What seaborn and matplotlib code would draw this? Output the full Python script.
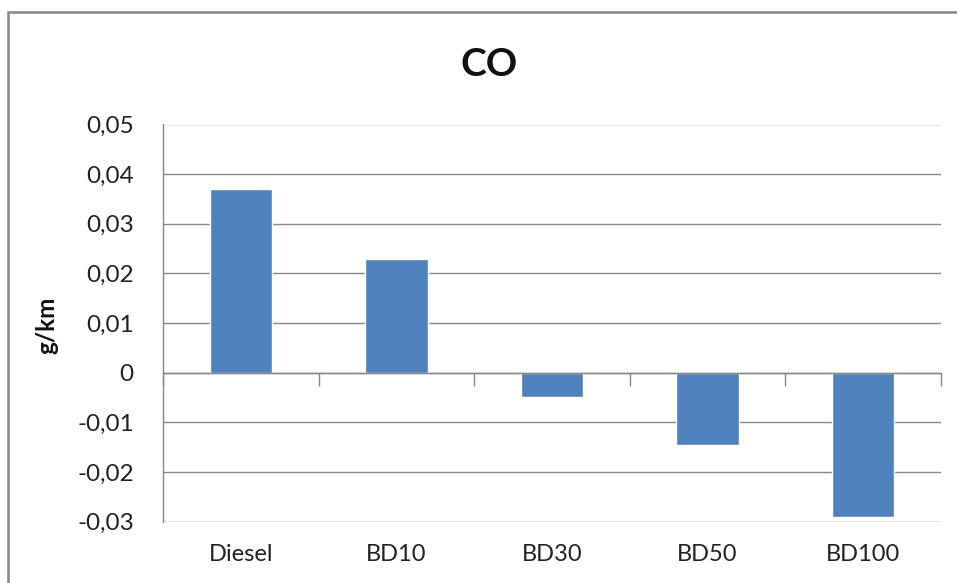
import matplotlib
matplotlib.use("Agg")
import matplotlib.pyplot as plt
from matplotlib.patches import Rectangle
from matplotlib.ticker import FuncFormatter, FixedLocator
import seaborn as sns
import numpy as np

# CO emissions per fuel blend
categories = ["Diesel", "BD10", "BD30", "BD50", "BD100"]
co_values = [0.037, 0.023, -0.0048, -0.0146, -0.029]
y_ticks = [-0.03, -0.02, -0.01, 0.0, 0.01, 0.02, 0.03, 0.04, 0.05]
title = "CO"
y_label = "g/km"

sns.set_theme(style="white")
plt.rcParams["font.family"] = ["Lato", "DejaVu Sans"]

grey = "#878787"
bar_color = "#4F81BD"

fig = plt.figure(figsize=(9.57, 5.83), dpi=100)
ax = fig.add_axes([163 / 957, 1 - 521.7 / 583, (941 - 163) / 957, (521.7 - 124.5) / 583])

sns.barplot(x=categories, y=co_values, color=bar_color, saturation=1,
            width=0.4, ax=ax, zorder=3)

ymin, ymax = y_ticks[0], y_ticks[-1]
ax.set_ylim(ymin, ymax)
ax.set_xlim(-0.5, len(categories) - 0.5)

# y axis: comma decimal separator
ax.yaxis.set_major_locator(FixedLocator(y_ticks))
ax.yaxis.set_major_formatter(FuncFormatter(
    lambda v, _: "0" if abs(v) < 1e-12 else f"{v:.2f}".replace(".", ",")))
ax.tick_params(axis="y", which="major", direction="out", length=9, width=1,
               color=grey, pad=12, labelsize=17.5, labelcolor="#222222")
ax.yaxis.grid(True, color=grey, linewidth=1)
ax.xaxis.grid(False)

# category labels at the bottom of the plot area
ax.tick_params(axis="x", which="major", length=0, pad=16, labelsize=17,
               labelcolor="#222222")

for side in ("top", "right", "bottom"):
    ax.spines[side].set_visible(False)
ax.spines["left"].set_color(grey)
ax.spines["left"].set_linewidth(1)

# horizontal axis line through zero with category boundary ticks
zero_pos = (0 - ymin) / (ymax - ymin)
sec = ax.secondary_xaxis(zero_pos)
boundaries = np.arange(len(categories) + 1) - 0.5
sec.set_xticks(boundaries)
sec.set_xticklabels([""] * len(boundaries))
sec.tick_params(axis="x", direction="out", length=9, width=1, color=grey)
sec.spines["bottom"].set_color(grey)
sec.spines["bottom"].set_linewidth(1)
sec.set_zorder(4)

ax.set_xlabel("")
ax.set_ylabel(y_label, fontsize=17.5, fontweight="bold", color="#111111")
ax.yaxis.set_label_coords((58 - 163) / 778, (521.7 - 325) / 397.2)

fig.text(489 / 957, 1 - 64 / 583, title, ha="center", va="center",
         fontsize=28, fontweight="bold", color="#111111")

# chart frame
fig.patches.append(Rectangle((8 / 957, -0.2), 1.2, 0.2 + 1 - 12 / 583,
                             transform=fig.transFigure, fill=False,
                             edgecolor=grey, linewidth=1.8))

fig.savefig("out.png", dpi=100, facecolor="white")
